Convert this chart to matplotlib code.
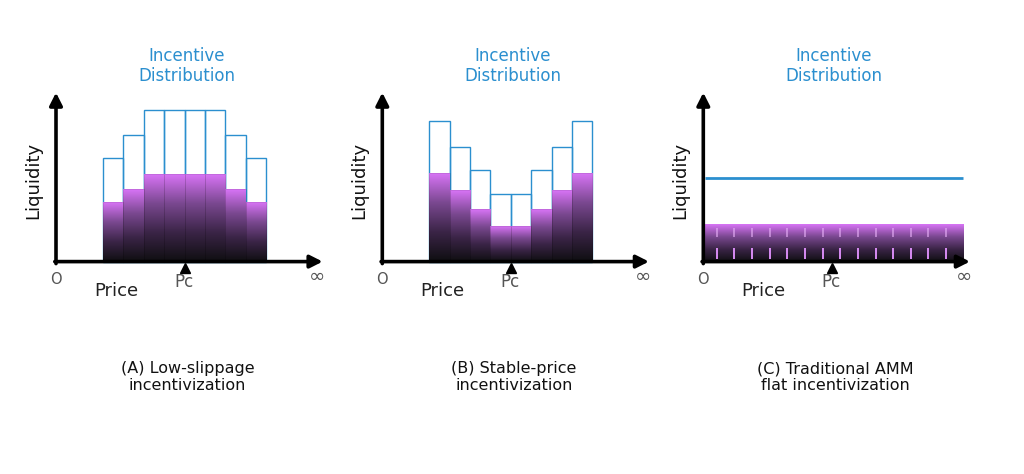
import numpy as np
import matplotlib
matplotlib.use("Agg")
import matplotlib.pyplot as plt
from matplotlib.colors import LinearSegmentedColormap

# ---- data (liquidity units, one bar = one price tick) ----
incentive_a = [5.2, 6.35, 7.6, 7.6, 7.6, 7.6, 6.35, 5.2]
liquidity_a = [3.0, 3.65, 4.4, 4.4, 4.4, 4.4, 3.65, 3.0]

incentive_b = [7.05, 5.72, 4.58, 3.38, 3.38, 4.58, 5.72, 7.05]
liquidity_b = [4.42, 3.58, 2.65, 1.8, 1.8, 2.65, 3.58, 4.42]

incentive_c = 4.2
liquidity_c = 1.87
range_c = (0.08, 12.73)

captions = ["(A) Low-slippage\nincentivization",
            "(B) Stable-price\nincentivization",
            "(C) Traditional AMM\nflat incentivization"]
title = "Incentive\nDistribution"

BLUE = "#2b8fcf"
GRAY = "#555555"
FONT = ["DejaVu Sans"]
purple = LinearSegmentedColormap.from_list(
    "liq", ["#0e0e10", "#3a2446", "#7a4890", "#d874f6"])

W, H = 1024, 474
XU, YU = 20.4, 20.0          # pixels per data unit
origins = [56.0, 382.3, 703.3]
BASE = 261.6
BAR_START = 2.3
PC = 6.3


def make_axes(fig, ox):
    left, right, up, down = 50, 290, 215, 45
    ax = fig.add_axes([(ox - left) / W, 1 - (BASE + down) / H,
                       (left + right) / W, (up + down) / H])
    ax.set_xlim(-left / XU, right / XU)
    ax.set_ylim(-down / YU, up / YU)
    ax.axis("off")
    return ax


def gradient_bar(ax, x0, x1, h, z=2):
    grad = np.linspace(0, 1, 256).reshape(-1, 1)
    ax.imshow(grad, extent=(x0, x1, 0, h), origin="lower", cmap=purple,
              aspect="auto", zorder=z, interpolation="bilinear")


def label(ax, x, y, s, **kw):
    opts = dict(ha="center", va="center", family=FONT)
    opts.update(kw)
    ax.text(x, y, s, **opts)


def decorate(ax, caption):
    # axes with arrow heads
    arrow = dict(arrowstyle="-|>,head_width=0.38,head_length=0.75", lw=2.6,
                 color="black", shrinkA=0, shrinkB=0, mutation_scale=10)
    ax.annotate("", xy=(0, 8.45), xytext=(0, -0.1), arrowprops=arrow, zorder=5)
    ax.annotate("", xy=(13.07, 0), xytext=(-0.06, 0), arrowprops=arrow, zorder=5)

    ax.plot(PC, -0.3, marker="^", ms=7, color="black", clip_on=False, zorder=5)
    label(ax, PC - 0.05, -1.03, "Pc", fontsize=12, color=GRAY)
    label(ax, 0, -0.88, "O", fontsize=10.5, color=GRAY)
    label(ax, 12.8, -0.75, "∞", fontsize=14, color=GRAY)
    label(ax, 2.94, -1.48, "Price", fontsize=13, color="#222222")
    label(ax, -1.13, 4.05, "Liquidity", rotation=90, fontsize=13,
          color="#111111")
    label(ax, 6.4, 9.77, title, fontsize=12, color=BLUE, linespacing=1.15)
    label(ax, 6.45, -5.77, caption, fontsize=11.5, color="#111111",
          linespacing=1.15)


def bar_panel(ax, incentive, liquidity, caption):
    xs = BAR_START + np.arange(len(incentive))
    ax.bar(xs, incentive, width=1, align="edge", fill=False,
           edgecolor=BLUE, lw=1.0, zorder=1)
    for x, h in zip(xs, liquidity):
        gradient_bar(ax, x, x + 1, h)
    ax.bar(xs, liquidity, width=1, align="edge", fill=False,
           edgecolor=(0, 0, 0, 0.12), lw=0.5, zorder=3)
    decorate(ax, caption)


fig = plt.figure(figsize=(W / 100, H / 100), dpi=100)
fig.patch.set_facecolor("white")

ax_a = make_axes(fig, origins[0])
bar_panel(ax_a, incentive_a, liquidity_a, captions[0])

ax_b = make_axes(fig, origins[1])
bar_panel(ax_b, incentive_b, liquidity_b, captions[1])

ax_c = make_axes(fig, origins[2])
ax_c.plot(range_c, [incentive_c, incentive_c], color=BLUE, lw=2.0, zorder=2,
          solid_capstyle="butt")
gradient_bar(ax_c, range_c[0], range_c[1], liquidity_c)
marks = np.linspace(0.66, 11.9, 14)
ax_c.vlines(marks, 0.14, 0.69, color="#d98cf5", lw=1.4, zorder=3)
ax_c.vlines(marks, 1.23, 1.68, color="#e8b0f8", lw=1.4, alpha=0.6, zorder=3)
decorate(ax_c, captions[2])

# restore limits after imshow
for ax in (ax_a, ax_b, ax_c):
    ax.set_xlim(-50 / XU, 290 / XU)
    ax.set_ylim(-45 / YU, 215 / YU)

fig.savefig("out.png", dpi=100, facecolor="white")
